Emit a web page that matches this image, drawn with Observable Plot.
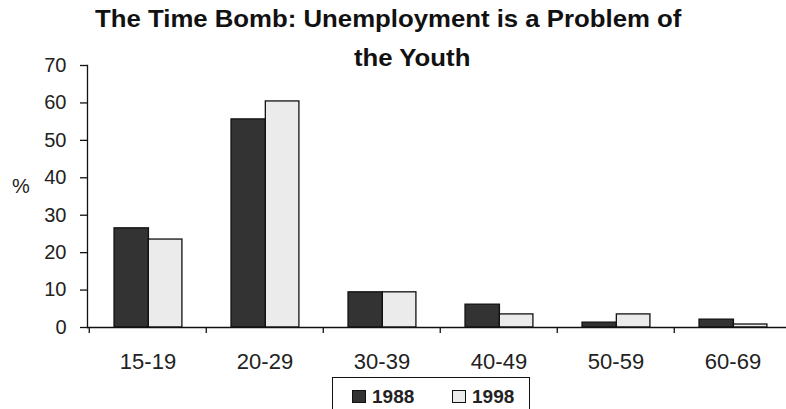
<!DOCTYPE html>
<html>
<head>
<meta charset="utf-8">
<script src="https://cdn.jsdelivr.net/npm/d3@7"></script>
<script src="https://cdn.jsdelivr.net/npm/@observablehq/plot@0.6"></script>
<style>
  html, body { margin: 0; padding: 0; background: #fff; }
  #wrap { position: relative; width: 786px; height: 409px; overflow: hidden; font-family: "Liberation Sans", Arial, sans-serif; color: #111; }
  .title { position: absolute; font-weight: bold; font-size: 23px; white-space: nowrap; line-height: 1; transform: scaleX(1.12); transform-origin: left top; }
  #t1 { left: 95px; top: 8px; }
  #t2 { left: 354px; top: 47px; }
  #pct { position: absolute; left: 12px; top: 175px; font-size: 20px; color: #222; }
  #legend { position: absolute; left: 332px; top: 377px; width: 198px; height: 40px; border: 1px solid #111; box-sizing: border-box; }
  .item { position: absolute; top: 9px; font-size: 19px; font-weight: bold; line-height: 1; display: flex; align-items: center; color: #222; }
  .sw { width: 12px; height: 11px; border: 1px solid #111; margin-right: 6px; }
</style>
</head>
<body>
<div id="wrap">
  <div id="chart"></div>
  <div class="title" id="t1">The Time Bomb: Unemployment is a Problem of</div>
  <div class="title" id="t2">the Youth</div>
  <div id="pct">%</div>
  <div id="legend"></div>
</div>
<script>
const categories = ["15-19", "20-29", "30-39", "40-49", "50-59", "60-69"];
const years = ["1988", "1998"];
const values1988 = [26.5, 55.6, 9.4, 6.1, 1.3, 2.1];
const values1998 = [23.5, 60.4, 9.4, 3.5, 3.5, 0.8];
const yTicks = [0, 10, 20, 30, 40, 50, 60, 70];
const colors = ["#333333", "#ebebeb"];

const rows1988 = categories.map((c, i) => ({cat: c, year: years[0], v: values1988[i]}));
const rows1998 = categories.map((c, i) => ({cat: c, year: years[1], v: values1998[i]}));

const width = 786, height = 409;
const marginLeft = 87, marginRight = -6;
const step = (width - marginLeft - marginRight) / categories.length;

const chart = Plot.plot({
  width, height,
  marginLeft, marginRight,
  marginTop: 65,
  marginBottom: 82,
  style: {background: "transparent", fontFamily: "Liberation Sans, Arial, sans-serif", color: "#222"},
  x: {domain: categories, padding: 0, label: null},
  y: {domain: [0, 70], label: null},
  marks: [
    Plot.barY(rows1988, {x: "cat", y: "v", fill: colors[0], stroke: "#111", strokeWidth: 1.3,
      insetLeft: step * 0.213, insetRight: step * 0.49}),
    Plot.barY(rows1998, {x: "cat", y: "v", fill: colors[1], stroke: "#111", strokeWidth: 1.3,
      insetLeft: step * 0.505, insetRight: step * 0.205}),
    Plot.frame({anchor: "left", stroke: "#111", strokeWidth: 1.3}),
    Plot.ruleY([0], {stroke: "#111", strokeWidth: 1.3}),
    Plot.ruleX(categories, {x: d => d, y1: 0, y2: -1.6, dx: -step / 2, stroke: "#111", strokeWidth: 1.3}),
    Plot.axisY({ticks: yTicks, tickSize: 7, tickPadding: 14, fontSize: 20, stroke: "#111", strokeWidth: 1.3, label: null}),
    Plot.axisX({tickSize: 0, tickPadding: 26, fontSize: 22, label: null})
  ]
});
document.getElementById("chart").appendChild(chart);

const legend = document.getElementById("legend");
const lefts = [19, 119];
years.forEach((y, i) => {
  const it = document.createElement("div");
  it.className = "item";
  it.style.left = lefts[i] + "px";
  const sw = document.createElement("div");
  sw.className = "sw";
  sw.style.background = colors[i];
  it.appendChild(sw);
  it.appendChild(document.createTextNode(y));
  legend.appendChild(it);
});
</script>
</body>
</html>
